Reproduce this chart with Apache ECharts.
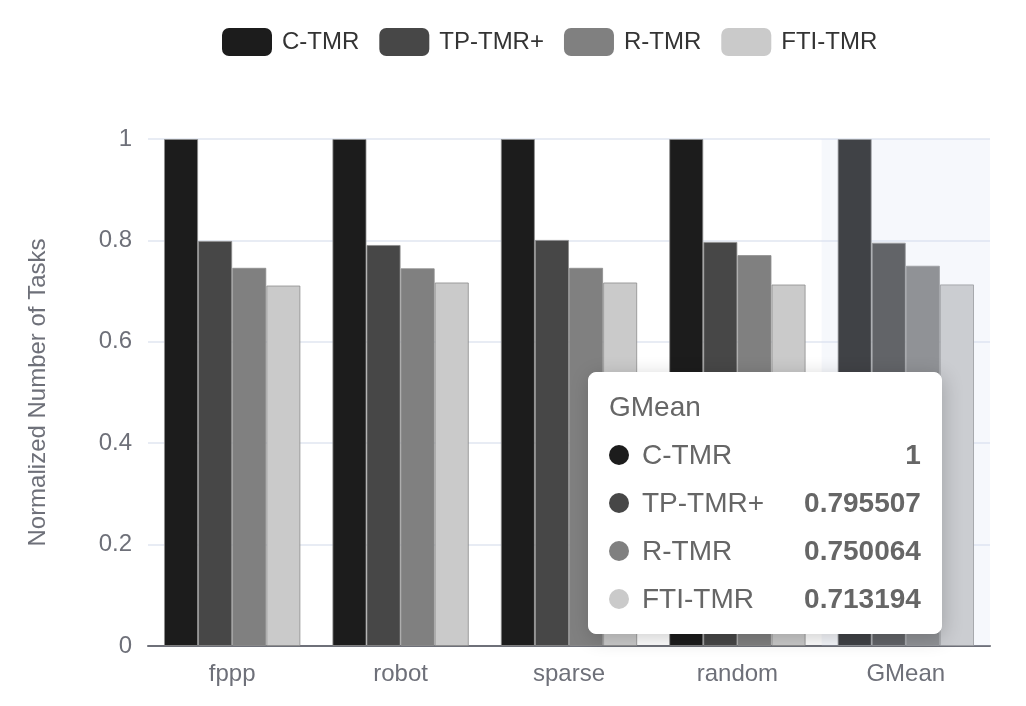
<!DOCTYPE html>
<html>
<head>
<meta charset="utf-8">
<script src="https://cdn.jsdelivr.net/npm/echarts@6/dist/echarts.min.js"></script>
<style>
html,body{margin:0;padding:0;background:#fff;}
#main{width:1026px;height:706px;}
</style>
</head>
<body>
<div id="main"></div>
<script>
const categories = ['fppp', 'robot', 'sparse', 'random', 'GMean'];
const seriesNames = ['C-TMR', 'TP-TMR+', 'R-TMR', 'FTI-TMR'];
const cTMR   = [1, 1, 1, 1, 1];
const tpTMR  = [0.799, 0.791, 0.801, 0.797, 0.795507];
const rTMR   = [0.746, 0.745, 0.746, 0.771, 0.750064];
const ftiTMR = [0.711, 0.717, 0.717, 0.713, 0.713194];
const yTicks = [0, 0.2, 0.4, 0.6, 0.8, 1];
const colors = ['#1c1c1c', '#474747', '#808080', '#cacaca'];

const FONT = '"Liberation Sans", Arial, Helvetica, sans-serif';
const chart = echarts.init(document.getElementById('main'));
const allData = [cTMR, tpTMR, rTMR, ftiTMR];

const option = {
  color: colors,
  textStyle: { fontFamily: FONT },
  legend: {
    top: 23,
    left: 217,
    itemWidth: 50,
    itemHeight: 28,
    itemGap: 20,
    icon: 'roundRect',
    itemStyle: { borderWidth: 0 },
    textStyle: { fontSize: 24, color: '#333', fontFamily: FONT, padding: [0, 0, 0, 5] },
    data: seriesNames
  },
  tooltip: {
    trigger: 'axis',
    axisPointer: { type: 'shadow', z: 100, shadowStyle: { color: 'rgba(210,219,238,0.2)' } },
    position: [588, 372],
    padding: 20,
    backgroundColor: '#fff',
    borderColor: '#fff',
    borderWidth: 1,
    borderRadius: 8,
    extraCssText: 'box-shadow: 2px 4px 20px rgba(0,0,0,0.2);',
    formatter: function (params) {
      let h = '<div style="font-family:' + FONT.replace(/"/g, "'") + ';">';
      h += '<div style="font-size:28px;color:#666;line-height:28px;">' + params[0].name + '</div>';
      params.forEach(function (p) {
        h += '<div style="margin-top:20px;line-height:28px;display:flex;align-items:center;">' +
          '<span style="display:inline-block;width:20px;height:20px;border-radius:10px;background:' + p.color + ';margin-right:13px;"></span>' +
          '<span style="font-size:28px;color:#666;">' + p.seriesName + '</span>' +
          '<span style="flex:1;min-width:40px;"></span>' +
          '<span style="font-size:28px;color:#666;font-weight:900;">' + p.value + '</span></div>';
      });
      h += '</div>';
      return h;
    }
  },
  grid: { left: 148, right: 36, top: 139, bottom: 60 },
  xAxis: {
    type: 'category',
    data: categories,
    axisTick: { show: false },
    axisLine: { lineStyle: { color: '#6e7079', width: 2 } },
    axisLabel: { fontSize: 24, color: '#6e7079', margin: 16, fontFamily: FONT }
  },
  yAxis: {
    type: 'value',
    min: 0,
    max: 1,
    interval: 0.2,
    name: 'Normalized Number of Tasks',
    nameLocation: 'middle',
    nameGap: 98,
    nameTextStyle: { fontSize: 24, color: '#6e7079', fontFamily: FONT },
    axisLabel: {
      fontSize: 24, color: '#6e7079', margin: 16, fontFamily: FONT,
      formatter: function (v) {
        const t = yTicks.find(function (x) { return Math.abs(x - v) < 1e-9; });
        return t === undefined ? '' : String(t);
      }
    },
    splitLine: { lineStyle: { color: '#e0e6f1', width: 1.5 } }
  },
  series: seriesNames.map(function (name, i) {
    return {
      name: name,
      type: 'bar',
      data: allData[i],
      barGap: '0%',
      barCategoryGap: '19%',
      itemStyle: { color: colors[i], borderColor: 'rgba(140,140,140,0.8)', borderWidth: 1 },
      emphasis: { disabled: true }
    };
  })
};
chart.setOption(option);
setTimeout(function () {
  chart.dispatchAction({ type: 'showTip', seriesIndex: 0, dataIndex: 4 });
}, 50);
</script>
</body>
</html>
